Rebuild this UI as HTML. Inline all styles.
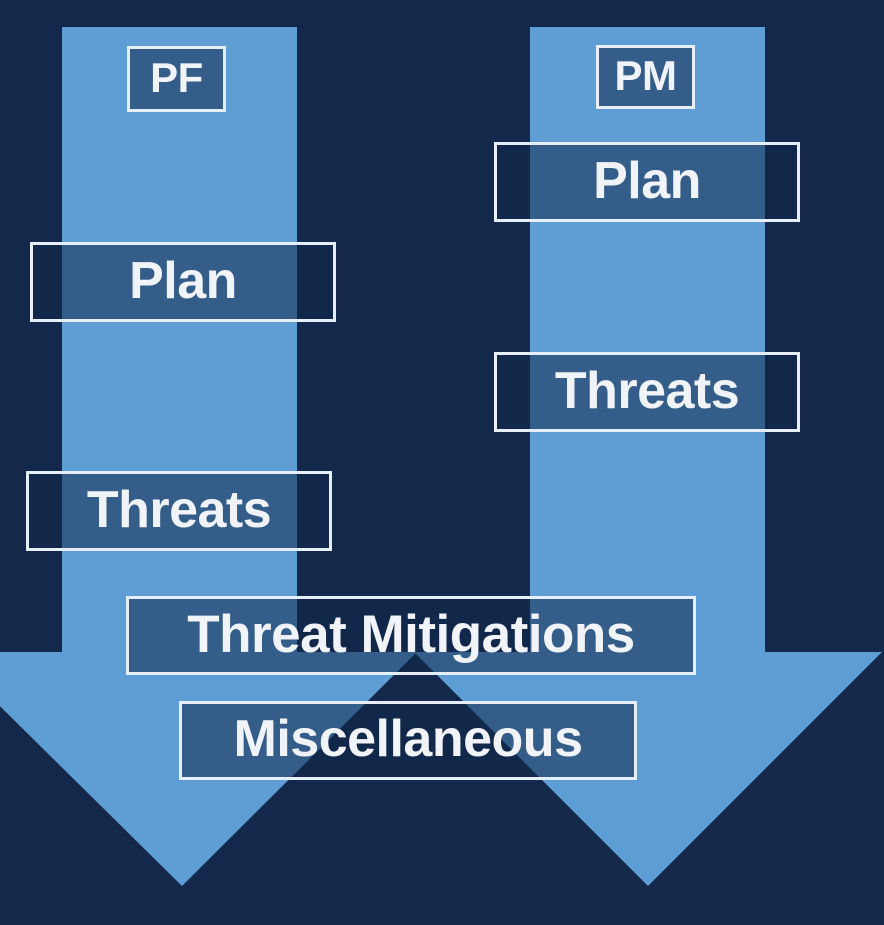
<!DOCTYPE html>
<html><head><style>
body{margin:0;background:#13284a;}
.c{position:relative;width:884px;height:925px;overflow:hidden;background:#13284a;font-family:"Liberation Sans",Arial,sans-serif;}
svg{position:absolute;left:0;top:0;}
.b{position:absolute;box-sizing:border-box;border:3px solid #e6eef7;background:rgba(19,40,74,0.55);color:#f0f3f7;font-weight:bold;display:flex;align-items:center;justify-content:center;font-size:52px;letter-spacing:-0.5px;padding-bottom:3px;}
</style></head><body><div class="c">
<svg width="884" height="925">
<polygon fill="#5e9ed4" points="62,27 297,27 297,652 417,652 182,886 -55,652 62,652"/>
<polygon fill="#5e9ed4" points="530,27 765,27 765,652 882,652 648,886 414,652 530,652"/>
</svg>
<div class="b" style="left:127px;top:46px;width:99px;height:66px;font-size:42px;">PF</div>
<div class="b" style="left:596px;top:45px;width:99px;height:64px;font-size:42px;">PM</div>
<div class="b" style="left:494px;top:142px;width:306px;height:80px;">Plan</div>
<div class="b" style="left:30px;top:242px;width:306px;height:80px;">Plan</div>
<div class="b" style="left:494px;top:352px;width:306px;height:80px;">Threats</div>
<div class="b" style="left:26px;top:471px;width:306px;height:80px;">Threats</div>
<div class="b" style="left:126px;top:596px;width:570px;height:79px;font-size:53px;">Threat Mitigations</div>
<div class="b" style="left:179px;top:701px;width:458px;height:79px;">Miscellaneous</div>
</div></body></html>
